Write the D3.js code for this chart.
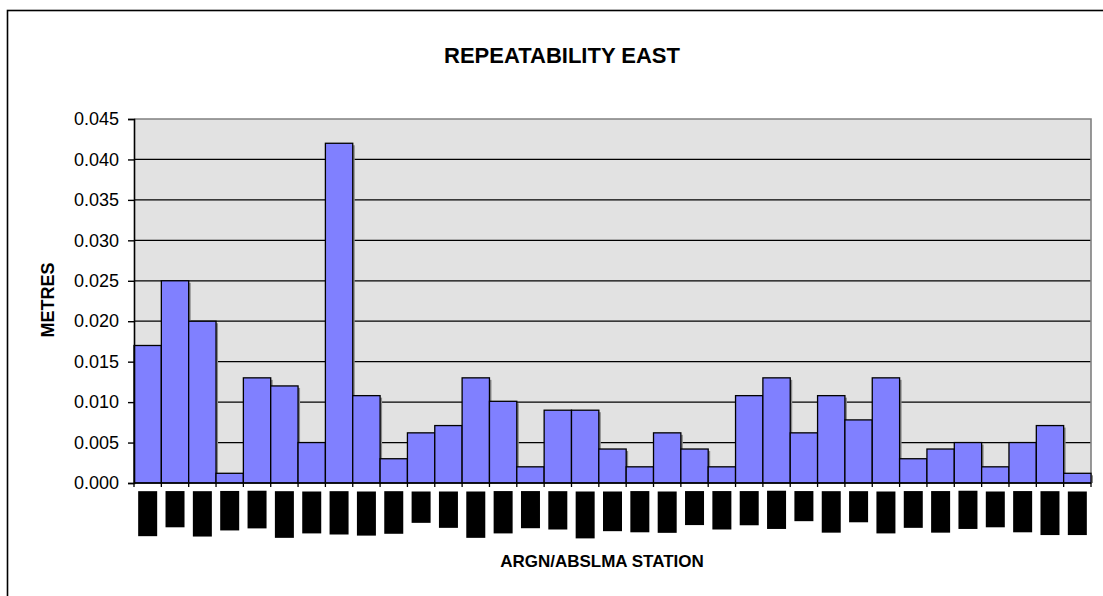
<!doctype html>
<html lang="en">
<head>
	<meta charset="utf-8">
	<title>Repeatability East</title>
	<script src="https://cdn.jsdelivr.net/npm/d3@7"></script>
	<style>
		body { margin: 0; background: #fff; }
		svg { display: block; font-family: "Liberation Sans", Arial, sans-serif; }
	</style>
</head>
<body>
	<svg id="chart" width="1103" height="596"></svg>
	<script>
		// station labels (hidden behind black boxes in the original)
		var stations = ["COCOS","HOB2","TOWNS","DARW","KARR","BURNIE","PERTH","LORNE","NAURU","STONY",
			"ALIC","NORF","BROOM","CEDU1","TOW2","MOBS","WYNDM","CAIRN","ADEL1","PTLND",
			"JAB1","MAW1","YAR2","NNOR","TID1","STANV","LHIS","THEVN","MAC1","PARK1",
			"HILLR","SYDN","ESPR1","BUNBY","KEMBL"];
		// repeatability east (metres)
		var east = [0.017, 0.025, 0.020, 0.0012, 0.013, 0.012, 0.005, 0.042, 0.0108, 0.003,
			0.0062, 0.0071, 0.013, 0.0101, 0.002, 0.009, 0.009, 0.0042, 0.002, 0.0062,
			0.0042, 0.002, 0.0108, 0.013, 0.0062, 0.0108, 0.0078, 0.013, 0.003, 0.0042,
			0.005, 0.002, 0.005, 0.0071, 0.0012];
		var yTicks = [0, 0.005, 0.010, 0.015, 0.020, 0.025, 0.030, 0.035, 0.040, 0.045];

		var data = stations.map(function(s, i) { return {station: s, value: east[i]}; });

		var svg = d3.select("#chart");
		var plotL = 134, plotR = 1091, plotT = 119, plotB = 483;

		var xScale = d3.scaleBand().domain(stations).range([plotL, plotR]).padding(0);
		var yScale = d3.scaleLinear().domain([0, 0.045]).range([plotB, plotT]);

		// outer chart border (only top and left visible)
		svg.append("rect")
			.attr("x", 7.5).attr("y", 10.5)
			.attr("width", 1300).attr("height", 1300)
			.attr("fill", "none").attr("stroke", "#000").attr("stroke-width", 1.6);

		// plot area
		svg.append("rect")
			.attr("x", plotL).attr("y", plotT)
			.attr("width", plotR - plotL).attr("height", plotB - plotT)
			.attr("fill", "#e2e2e2");

		// gridlines
		svg.append("g").selectAll("line")
			.data(yTicks.slice(1, -1))
			.enter().append("line")
			.attr("x1", plotL).attr("x2", plotR)
			.attr("y1", function(d) { return yScale(d); })
			.attr("y2", function(d) { return yScale(d); })
			.attr("stroke", "#000").attr("stroke-width", 1.2);

		// plot border top / right
		svg.append("path")
			.attr("d", "M" + plotL + "," + plotT + "H" + plotR + "V" + plotB)
			.attr("fill", "none").attr("stroke", "#808080").attr("stroke-width", 1.6);

		// bars (shadow + bar)
		svg.append("g").selectAll("rect")
			.data(data).enter().append("rect")
			.attr("x", function(d) { return xScale(d.station) + 2; })
			.attr("y", function(d) { return yScale(d.value) + 2; })
			.attr("width", xScale.bandwidth())
			.attr("height", function(d) { return plotB - yScale(d.value) - 2; })
			.attr("fill", "#8a8a8a");

		svg.append("g").selectAll("rect")
			.data(data).enter().append("rect")
			.attr("x", function(d) { return xScale(d.station); })
			.attr("y", function(d) { return yScale(d.value); })
			.attr("width", xScale.bandwidth())
			.attr("height", function(d) { return plotB - yScale(d.value); })
			.attr("fill", "#8080ff")
			.attr("stroke", "#000").attr("stroke-width", 1.3);

		// y axis
		var yAxis = d3.axisLeft(yScale)
			.tickValues(yTicks)
			.tickFormat(d3.format(".3f"))
			.tickSize(6)
			.tickPadding(9);
		var yG = svg.append("g").attr("transform", "translate(" + plotL + ",0)").call(yAxis);
		yG.select(".domain").attr("stroke", "#000").attr("stroke-width", 1.6);
		yG.selectAll(".tick line").attr("stroke", "#000").attr("stroke-width", 1.4);
		yG.selectAll(".tick text").attr("font-size", 18).attr("fill", "#000")
			.style("font-family", "'Liberation Sans', Arial, sans-serif");

		// x axis line + ticks at band edges
		svg.append("line")
			.attr("x1", plotL).attr("x2", plotR)
			.attr("y1", plotB).attr("y2", plotB)
			.attr("stroke", "#000").attr("stroke-width", 1.6);
		svg.append("g").selectAll("line")
			.data(stations.concat(["end"]))
			.enter().append("line")
			.attr("x1", function(d, i) { return plotL + i * xScale.step(); })
			.attr("x2", function(d, i) { return plotL + i * xScale.step(); })
			.attr("y1", plotB).attr("y2", plotB + 4)
			.attr("stroke", "#000").attr("stroke-width", 1.3);

		// rotated category labels, blacked out
		var lab = svg.append("g").selectAll("g")
			.data(stations).enter().append("g")
			.attr("transform", function(d) {
				return "translate(" + (xScale(d) + xScale.bandwidth() / 2) + ",491.5) rotate(-90)";
			});
		lab.append("text")
			.attr("x", -3).attr("y", 0)
			.attr("text-anchor", "end")
			.attr("dominant-baseline", "central")
			.attr("font-size", 10).attr("font-weight", "bold")
			.attr("fill", "#000")
			.text(function(d) { return d; });
		lab.insert("rect", "text")
			.each(function() {
				var bb = this.parentNode.querySelector("text").getBBox();
				d3.select(this)
					.attr("x", bb.x - 5).attr("y", -9.5)
					.attr("width", bb.width + 8).attr("height", 19);
			})
			.attr("fill", "#000");

		// titles
		svg.append("text")
			.attr("x", 562).attr("y", 63)
			.attr("text-anchor", "middle")
			.attr("font-size", 22).attr("font-weight", "bold")
			.text("REPEATABILITY EAST");

		svg.append("text")
			.attr("transform", "translate(54,300) rotate(-90)")
			.attr("text-anchor", "middle")
			.attr("font-size", 18).attr("font-weight", "bold")
			.text("METRES");

		svg.append("text")
			.attr("x", 602).attr("y", 567)
			.attr("text-anchor", "middle")
			.attr("font-size", 17).attr("font-weight", "bold")
			.text("ARGN/ABSLMA STATION");
	</script>
</body>
</html>
